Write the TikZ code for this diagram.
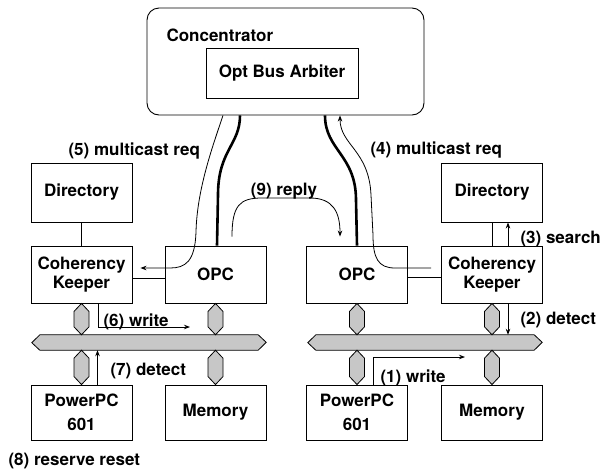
\documentclass[tikz,border=0pt]{standalone}
\usepackage{tikz}
\usepackage{fontspec}
\setmainfont{TeX Gyre Heros}
\usetikzlibrary{positioning,calc,arrows.meta}

\tikzset{
    every node/.style={font=\fontsize{17}{19}\selectfont\bfseries},
    unit/.style={draw, line width=0.9pt, minimum width=101pt, minimum height=57pt, inner sep=0pt, align=center},
    wire/.style={line width=0.8pt},
    fat/.style={line width=2.6pt},
    tip/.style={-{Stealth[length=6pt,width=4.5pt]}},
    dots/.style={draw, line width=0.8pt, fill=black!22},
    busbox/.style={minimum width=218pt, minimum height=15pt, inner sep=0pt},
}
% vertical hexagon between two points
\newcommand{\hexlink}[2]{%
    \filldraw[dots] (#1) -- ++(7.5,8) -- ($(#2)+(7.5,-8)$) -- (#2)
        -- ++(-7.5,-8) -- ($(#1)+(-7.5,8)$) -- cycle;}
% bus bar with pointed ends
\newcommand{\optbus}[1]{%
    \filldraw[dots] (#1.north west) -- (#1.north east) -- ++(8,7.5) -- (#1.south east)
        -- (#1.south west) -- ++(-8,-7.5) -- cycle;}

\begin{document}
\begin{tikzpicture}[x=1pt,y=-1pt]
    \useasboundingbox (0,0) rectangle (607,469);

    % concentrator
    \node[draw, line width=0.9pt, rounded corners=12pt, minimum width=277pt, minimum height=107pt] (conc) at (285.5,61.5) {};
    \node[anchor=base west] (conctitle) at (163,41) {Concentrator};
    \node[draw, line width=0.9pt, minimum width=152pt, minimum height=50pt] (arb) at (282,73) {Opt Bus Arbiter};

    % left node
    \node[unit, minimum height=59pt] (dirL) at (81.5,192.5) {Directory};
    \node[unit] (ckL) at (81.5,274.5) {Coherency\\Keeper};
    \node[unit] (opcL) at (215.5,274.5) {OPC};
    \node[unit, minimum height=55pt] (ppcL) at (81.5,412.5) {PowerPC\\[5pt]601};
    \node[unit, minimum height=55pt] (memL) at (215.5,412.5) {Memory};
    \node[busbox] (busL) at (149,342.5) {};

    % right node
    \node[unit, minimum height=59pt] (dirR) at (492,192.5) {Directory};
    \node[unit] (ckR) at (492,274.5) {Coherency\\Keeper};
    \node[unit] (opcR) at (357,274.5) {OPC};
    \node[unit, minimum height=55pt] (ppcR) at (357,412.5) {PowerPC\\[5pt]601};
    \node[unit, minimum height=55pt] (memR) at (492,412.5) {Memory};
    \node[busbox] (busR) at (425,342.5) {};

    \optbus{busL}
    \optbus{busR}
    \foreach \u/\b in {ckL/busL, opcL/busL, ckR/busR, opcR/busR}
        \hexlink{\u.south}{\u.south |- \b.north};
    \foreach \d/\b in {ppcL/busL, memL/busL, ppcR/busR, memR/busR}
        \hexlink{\b.south -| \d.north}{\d.north};

    \draw[wire] (dirL) -- (ckL);
    \draw[wire] (dirR) -- (ckR);
    \draw[wire] ([yshift=-3.5pt]ckL.east) -- ([yshift=-3.5pt]opcL.west);
    \draw[wire] ([yshift=-2.5pt]opcR.east) -- ([yshift=-2.5pt]ckR.west);

    % optical links
    \draw[fat] ([xshift=-45.5pt]conc.south) .. controls (240,145) and (218,150) .. (218,195) -- ([xshift=1.5pt]opcL.north);
    \draw[fat] ([xshift=39.5pt]conc.south) .. controls (325,150) and (356,155) .. (356,200) -- (opcR.north);
    \draw[wire,tip] ([xshift=-62.5pt]conc.south) .. controls (212,148) and (197,190) .. (196,232)
        .. controls (195,262) and (185,268) .. (170,268) -- ([xshift=8pt,yshift=6.5pt]ckL.east);
    \draw[wire,tip] ([xshift=-10pt,yshift=6.5pt]ckR.west) -- (395,268) .. controls (378,268) and (373,258) .. (373,235)
        -- (371,195) .. controls (369,150) and (340,145) .. ([xshift=54.5pt]conc.south);
    \draw[wire,tip] ([xshift=16.5pt,yshift=9pt]opcL.north) .. controls (232,205) and (240,198) .. (262,198)
        -- (310,198) .. controls (333,198) and (340,212) .. ([xshift=-17pt,yshift=9pt]opcR.north);

    % steps
    \coordinate (w6) at (190,327);
    \coordinate (w1) at (465,357);
    \draw[wire,tip] ([xshift=16.5pt]ckL.south) |- (w6);
    \draw[wire,tip] ([xshift=16pt]ppcL.north) -- ([xshift=16pt]ppcL.north |- busL.south);
    \draw[wire,tip] ([xshift=16pt]ckR.south) -- ([xshift=16pt]ckR.south |- busR.north);
    \draw[wire,tip] ([xshift=16pt]ckR.north) -- ([xshift=16pt]dirR.south);
    \draw[wire,tip] ([xshift=16pt]ppcR.north) |- (w1);

    \node[anchor=base west] (lbl5) at (65,155) {(5) multicast req};
    \node[anchor=base west] (lbl4) at (367,154) {(4) multicast req};
    \node[anchor=base] (lbl9) at (284,195) {(9) reply};
    \node[anchor=base west] (lbl3) at (517,243) {(3) search};
    \node[anchor=base west] (lbl6) at (100,326) {(6) write};
    \node[anchor=base west] (lbl2) at (517,324) {(2) detect};
    \node[anchor=base west] (lbl7) at (107,375) {(7) detect};
    \node[anchor=base west] (lbl1) at (377,382) {(1) write};
    \node[anchor=base west] (lbl8) at (5,465) {(8) reserve reset};
\end{tikzpicture}
\end{document}
